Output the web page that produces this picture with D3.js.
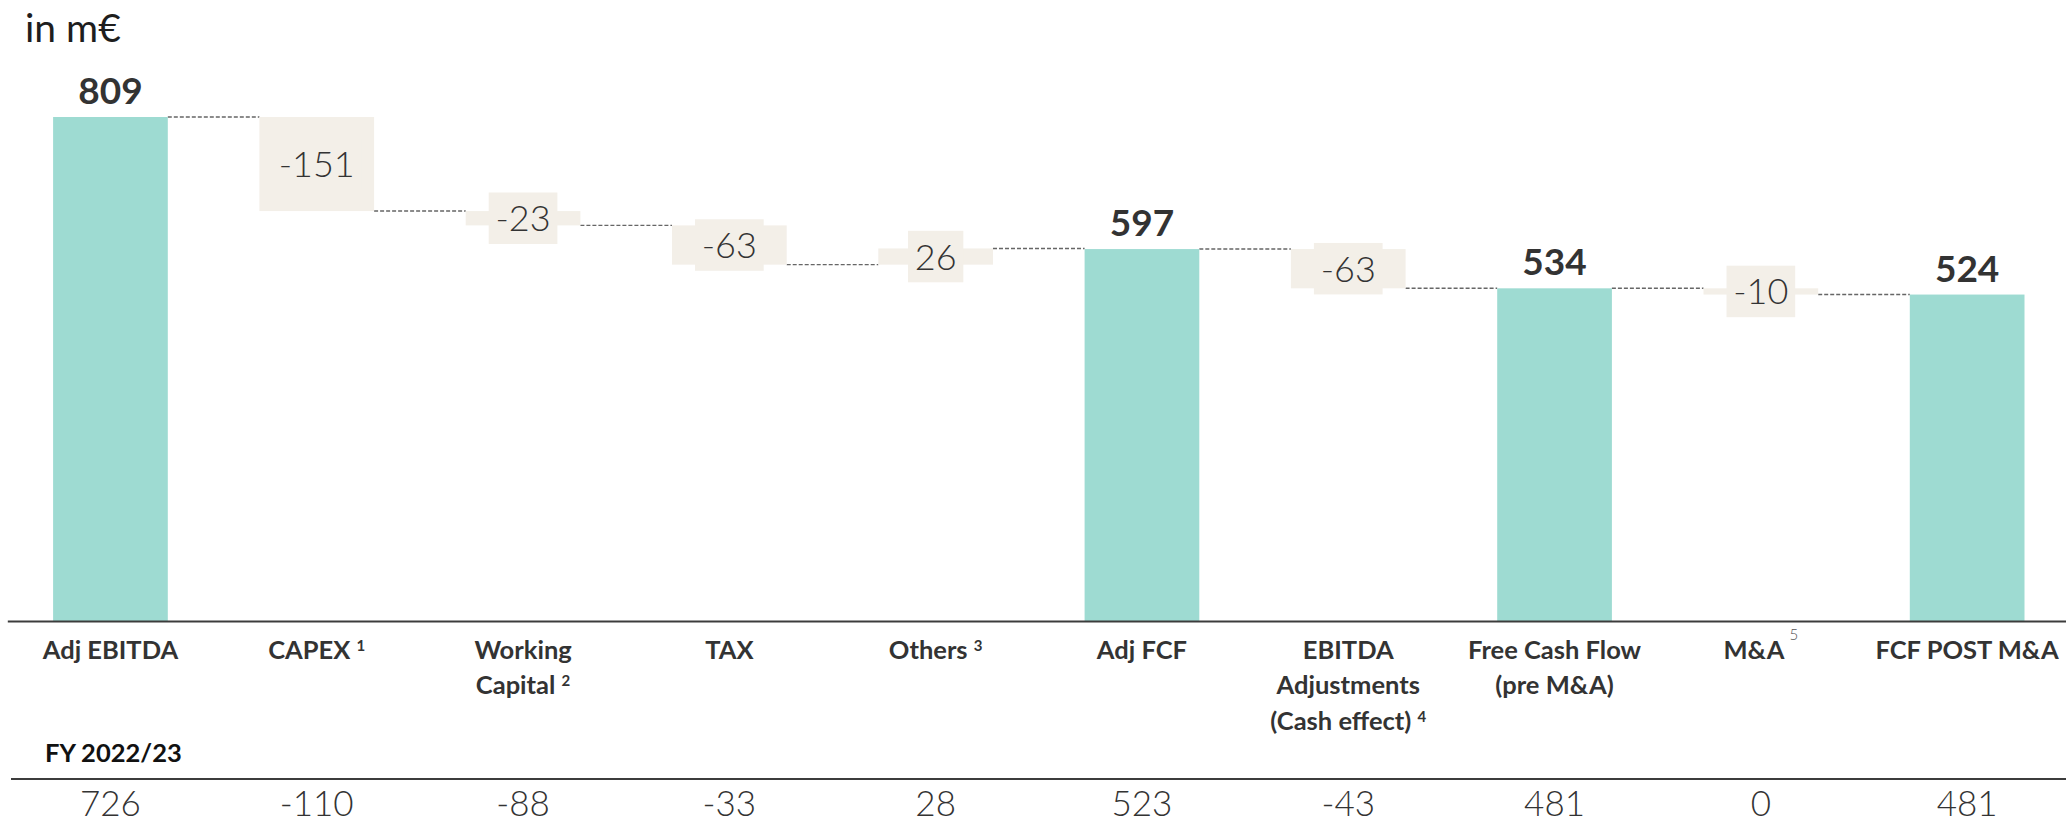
<!DOCTYPE html>
<html>
<head>
<meta charset="utf-8">
<script src="https://cdn.jsdelivr.net/npm/d3@7"></script>
<style>
  html, body { margin: 0; padding: 0; background: #ffffff; }
  svg { display: block; font-family: Lato, "Open Sans", sans-serif; }
</style>
</head>
<body>
<svg id="chart" width="2066" height="824"></svg>
<script>
// ---- data ----------------------------------------------------------------
const unitLabel = "in m€";
const categories = [
  "Adj EBITDA", "CAPEX", "Working Capital", "TAX", "Others",
  "Adj FCF", "EBITDA Adjustments (Cash effect)", "Free Cash Flow (pre M&A)",
  "M&A", "FCF POST M&A"
];
const categoryLines = [
  ["Adj EBITDA"], ["CAPEX"], ["Working", "Capital"], ["TAX"], ["Others"],
  ["Adj FCF"], ["EBITDA", "Adjustments", "(Cash effect)"], ["Free Cash Flow", "(pre M&A)"],
  ["M&A"], ["FCF POST M&A"]
];
const footnotes = ["", "1", "2", "", "3", "", "4", "", "5", ""];
const barTypes = ["total", "delta", "delta", "delta", "delta", "total", "delta", "total", "delta", "total"];
const values = [809, -151, -23, -63, 26, 597, -63, 534, -10, 524];
const priorYearLabel = "FY 2022/23";
const priorYearValues = [726, -110, -88, -33, 28, 523, -43, 481, 0, 481];

// ---- styling ---------------------------------------------------------------
const TEAL = "#9edbd2";
const BEIGE = "#f3efe8";
const INK = "#333333";

const W = 2066, H = 824;
const svg = d3.select("#chart");

// plain hyphen for negatives, as in the printed figures
const fmt = v => String(v);

// ---- waterfall steps -----------------------------------------------------
let running = 0;
const steps = values.map((v, i) => {
  let start, end;
  if (barTypes[i] === "total") { start = 0; end = v; }
  else { start = running; end = running + v; }
  running = end;
  return { i, cat: categories[i], v, start, end, type: barTypes[i] };
});

// ---- scales --------------------------------------------------------------
const x = d3.scaleBand()
  .domain(categories)
  .range([7.3, 2070.3])
  .paddingInner(0.444)
  .paddingOuter(0.222);

const baseY = 621;
const y = d3.scaleLinear()
  .domain([0, d3.max(values)])
  .range([baseY, 117]);

const bw = x.bandwidth();
const cx = c => x(c) + bw / 2;

// ---- unit caption ------------------------------------------------------
svg.append("text")
  .attr("x", 25).attr("y", 42)
  .attr("font-size", 39).attr("font-weight", 400)
  .attr("fill", "#1e1e1e")
  .text(unitLabel);

// ---- connectors ----------------------------------------------------------
const conn = svg.append("g").attr("class", "connectors");
steps.slice(0, -1).forEach((s, k) => {
  const next = steps[k + 1];
  conn.append("line")
    .attr("x1", x(s.cat) + bw).attr("x2", x(next.cat))
    .attr("y1", y(s.end)).attr("y2", y(s.end))
    .attr("stroke", "#666666")
    .attr("stroke-width", 1.4)
    .attr("stroke-dasharray", "4,2");
});

// ---- bars ----------------------------------------------------------------
svg.append("g").attr("class", "bars")
  .selectAll("rect")
  .data(steps)
  .join("rect")
  .attr("x", d => x(d.cat))
  .attr("width", bw)
  .attr("y", d => y(Math.max(d.start, d.end)))
  .attr("height", d => Math.abs(y(d.start) - y(d.end)))
  .attr("fill", d => d.type === "total" ? TEAL : BEIGE);

// ---- value labels: totals above the bar --------------------------------
svg.append("g").attr("class", "total-labels")
  .selectAll("text")
  .data(steps.filter(d => d.type === "total"))
  .join("text")
  .attr("x", d => cx(d.cat))
  .attr("y", d => y(d.end) - 13)
  .attr("text-anchor", "middle")
  .attr("font-size", 37)
  .attr("font-weight", 700)
  .attr("fill", INK)
  .text(d => fmt(d.v));

// ---- value labels: deltas centred in the bar on a beige chip -----------
const deltaG = svg.append("g").attr("class", "delta-labels");
steps.filter(d => d.type === "delta").forEach(d => {
  const midY = (y(d.start) + y(d.end)) / 2;
  const g = deltaG.append("g");
  const rect = g.append("rect").attr("fill", BEIGE);
  const t = g.append("text")
    .attr("x", cx(d.cat))
    .attr("y", midY + 13)
    .attr("text-anchor", "middle")
    .attr("font-size", 36)
    .attr("font-weight", 300)
    .attr("fill", INK)
    .text(fmt(d.v));
  const tw = t.node().getComputedTextLength();
  const padX = 6.8, boxH = 51.5;
  rect.attr("x", cx(d.cat) - tw / 2 - padX)
    .attr("width", tw + 2 * padX)
    .attr("y", midY - boxH / 2)
    .attr("height", boxH);
});

// ---- category axis -------------------------------------------------------
const axis = svg.append("g")
  .attr("class", "x-axis")
  .attr("transform", `translate(0,${baseY})`)
  .call(d3.axisBottom(x).tickSize(0).tickSizeOuter(0));

axis.select(".domain")
  .attr("stroke", "#3c3c3c")
  .attr("stroke-width", 2);

axis.selectAll(".tick text").remove();
axis.selectAll(".tick").each(function (cat) {
  const i = categories.indexOf(cat);
  const lines = categoryLines[i];
  const note = footnotes[i];
  const txt = d3.select(this).append("text")
    .attr("text-anchor", "middle")
    .attr("font-family", "Lato, sans-serif")
    .attr("font-size", 25.5)
    .attr("font-weight", 700)
    .attr("fill", INK);
  lines.forEach((line, k) => {
    const isLast = k === lines.length - 1;
    txt.append("tspan")
      .attr("x", 0)
      .attr("y", 37.5 + k * 35.5)
      .text(line + (isLast && note && cat !== "M&A" ? " " : ""));
    if (isLast && note) {
      const raised = cat === "M&A";
      txt.append("tspan")
        .attr("dx", raised ? 5 : 0)
        .attr("dy", raised ? -19 : -8)
        .attr("font-size", 15)
        .attr("font-weight", raised ? 300 : 700)
        .attr("fill", raised ? "#555" : INK)
        .text(note);
    }
  });
});

// ---- prior-year comparison row ---------------------------------------
svg.append("text")
  .attr("x", 45).attr("y", 762)
  .attr("font-size", 25.5)
  .attr("font-weight", 700)
  .attr("fill", "#111")
  .text(priorYearLabel);

svg.append("line")
  .attr("x1", 11).attr("x2", W)
  .attr("y1", 779).attr("y2", 779)
  .attr("stroke", "#3c3c3c")
  .attr("stroke-width", 2);

svg.append("g").attr("class", "prior-year")
  .selectAll("text")
  .data(priorYearValues)
  .join("text")
  .attr("x", (d, i) => cx(categories[i]))
  .attr("y", 816)
  .attr("text-anchor", "middle")
  .attr("font-size", 35)
  .attr("font-weight", 300)
  .attr("fill", INK)
  .text(d => fmt(d));
</script>
</body>
</html>
